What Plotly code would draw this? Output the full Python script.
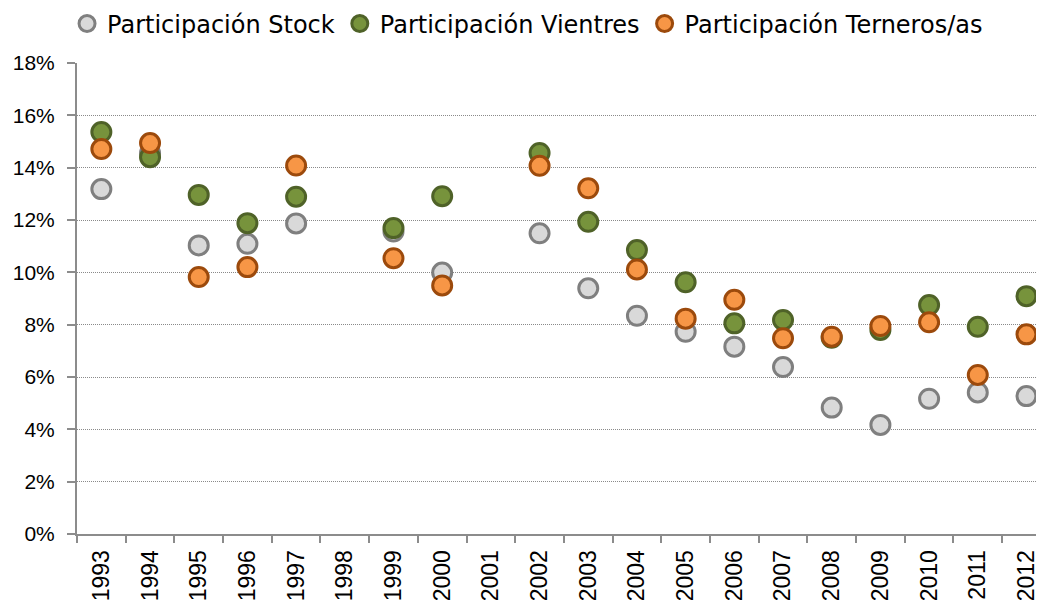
import plotly.graph_objects as go

years = [str(y) for y in range(1993, 2013)]
stock = [13.18, 14.56, 11.03, 11.09, 11.87, None, 11.56, 9.99, None, 11.49,
         9.39, 8.34, 7.73, 7.16, 6.38, 4.83, 4.17, 5.17, 5.41, 5.27]
vientres = [15.36, 14.40, 12.96, 11.88, 12.89, None, 11.69, 12.91, None, 14.56,
            11.93, 10.85, 9.62, 8.05, 8.18, 7.50, 7.80, 8.75, 7.92, 9.09]
terneros = [14.71, 14.94, 9.82, 10.20, 14.08, None, 10.54, 9.50, None, 14.07,
            13.21, 10.11, 8.23, 8.95, 7.48, 7.54, 7.95, 8.09, 6.08, 7.63]
names = ["Participación Stock", "Participación Vientres", "Participación Terneros/as"]
y_ticks = [0, 2, 4, 6, 8, 10, 12, 14, 16, 18]

series = [
    (names[0], stock, "#D9D9D9", "#7F7F7F"),
    (names[1], vientres, "#77933C", "#4F6228"),
    (names[2], terneros, "#F79646", "#9C4A0C"),
]

fig = go.Figure()
for name, vals, fill, edge in series:
    fig.add_trace(go.Scatter(
        x=years, y=vals, name=name, mode="markers",
        marker=dict(symbol="circle", size=19, color=fill,
                    line=dict(color=edge, width=3)),
    ))

axis_col = "#8C8C8C"
# page body has an 8px default margin: figure is sized/offset to compensate
fig.update_layout(
    width=1036, height=598,
    margin=dict(l=69, r=0, t=55, b=72, autoexpand=False),
    plot_bgcolor="white", paper_bgcolor="white",
    showlegend=True,
    legend=dict(orientation="h", x=-0.0103, xanchor="left",
                y=1.083, yref="paper", yanchor="middle",
                font=dict(family="DejaVu Sans", size=24, color="#000000"),
                itemsizing="trace", itemwidth=30, tracegroupgap=0,
                bgcolor="rgba(0,0,0,0)"),
    xaxis=dict(type="category", categoryorder="array", categoryarray=years,
               range=[-0.5, 19.36], tickson="boundaries", automargin=False,
               ticks="outside", ticklen=7, tickwidth=2, tickcolor=axis_col,
               showline=True, linecolor=axis_col, linewidth=2,
               showgrid=False, tickangle=-90, ticklabelstandoff=5,
               tickfont=dict(family="Liberation Sans", size=23, color="#000000")),
    yaxis=dict(range=[0, 18], tickvals=y_ticks, ticktext=[f"{v}%" for v in y_ticks],
               automargin=False,
               ticks="outside", ticklen=8, tickwidth=2, tickcolor=axis_col,
               showline=True, linecolor=axis_col, linewidth=2,
               showgrid=True, gridcolor="#8A8A8A", gridwidth=1, griddash="1px,1px",
               zeroline=False, ticklabelstandoff=8,
               tickfont=dict(family="Liberation Sans", size=21, color="#000000")),
)

fig.write_html("out.html")
